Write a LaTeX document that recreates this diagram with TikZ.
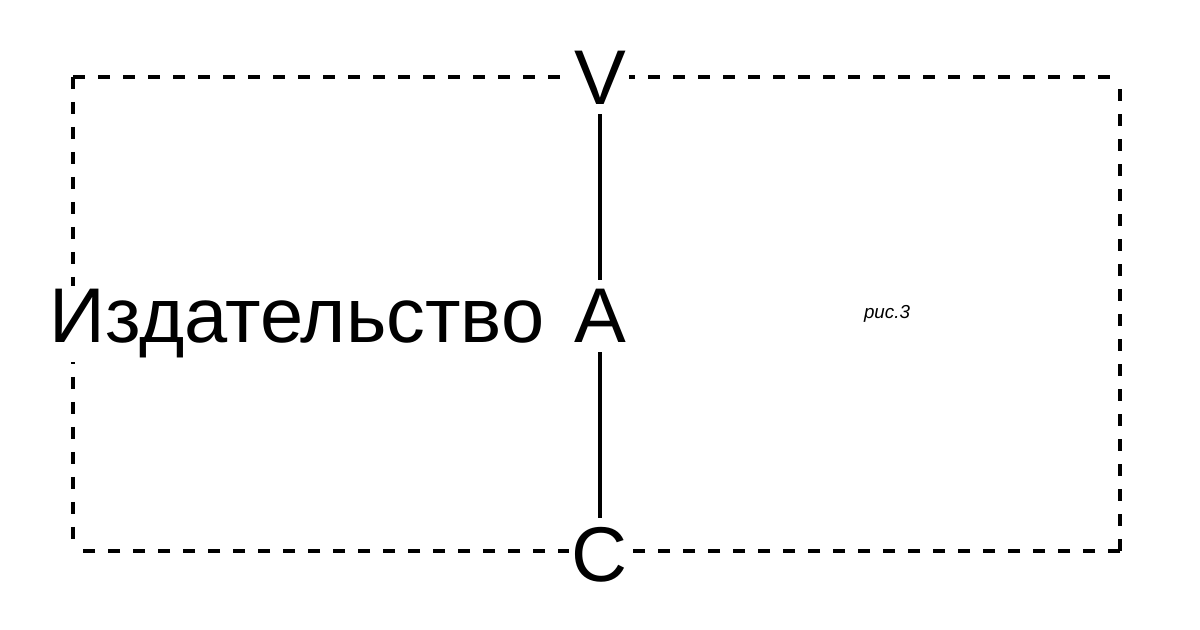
\documentclass[tikz,border=0pt]{standalone}
\usepackage{fontspec}
\setmainfont{Liberation Sans}
\begin{document}
\begin{tikzpicture}[x=0.5pt, y=-0.5pt,
    frame/.style={line width=2pt, dash pattern=on 6pt off 6.5pt},
    letter/.style={fill=white, inner xsep=1.5pt, inner ysep=4.5pt, font=\fontsize{38.8pt}{40pt}\selectfont},
    axis/.style={line width=2.2pt}]
    \useasboundingbox (0,0) rectangle (1200,630);
    \coordinate (TL) at (73,77);
    \coordinate (TR) at (1120,77);
    \coordinate (BL) at (73,551);
    \coordinate (BR) at (1120,551);

    % 枠を描く
    \draw[frame] (TL) -- (TR);
    \draw[frame] (TL) -- (BL);
    \draw[frame] (BR) -- (TR);
    \draw[frame] (BR) -- (BL);

    % 文字を入れる
    \node[letter] (V) at (600,78) {V};
    \node[letter] (A) at (600,316) {A};
    \node[letter] (C) at (600,555) {C};
    \node[letter, anchor=base east, inner sep=2pt] (pub) at (549,343) {Издательство};
    \node[font=\fontsize{9.4pt}{11pt}\selectfont\itshape] (fig) at (887,314) {рис.3};

    % 線を引く
    \draw[axis] (V) -- (A);
    \draw[axis] (A) -- (C);

\end{tikzpicture}
\end{document}
